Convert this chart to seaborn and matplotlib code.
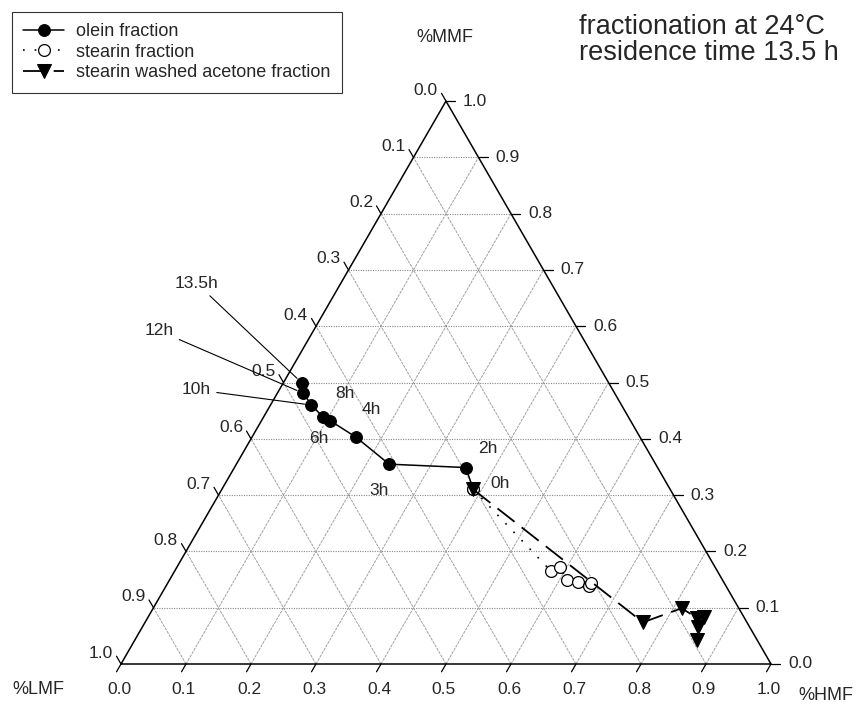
import numpy as np
import pandas as pd
import matplotlib
matplotlib.use('Agg')
import matplotlib.pyplot as plt
import seaborn as sns

sns.set_style('white')
plt.rcParams['font.family'] = ['Liberation Sans', 'DejaVu Sans']

# composition: HMF and MMF fractions, LMF = 1 - HMF - MMF
olein_time = ['0h', '2h', '3h', '4h', '6h', '8h', '10h', '12h', '13.5h']
olein_hmf = [0.387, 0.356, 0.235, 0.160, 0.106, 0.091, 0.063, 0.040, 0.029]
olein_mmf = [0.310, 0.349, 0.355, 0.403, 0.432, 0.439, 0.460, 0.481, 0.499]

stearin_hmf = [0.387, 0.579, 0.589, 0.612, 0.630, 0.651, 0.651]
stearin_mmf = [0.310, 0.165, 0.172, 0.149, 0.146, 0.139, 0.144]

washed_hmf = [0.387, 0.766, 0.813, 0.845, 0.855, 0.855, 0.865]
washed_mmf = [0.310, 0.074, 0.099, 0.082, 0.084, 0.066, 0.043]

tick_values = [0.0, 0.1, 0.2, 0.3, 0.4, 0.5, 0.6, 0.7, 0.8, 0.9, 1.0]
tick_labels = ['%.1f' % t for t in tick_values]

# label offsets (points) of the time labels from their olein point
label_offset = {'0h': (19, 4), '2h': (16, 14), '3h': (-7, -19), '4h': (11, 20),
                '6h': (-8, -13), '8h': (16, 17), '10h': (-83, 11),
                '12h': (-104, 45), '13.5h': (-76, 72)}
leader = ['10h', '12h', '13.5h']

S = np.sqrt(3) / 2
PX = 1 / 650.0  # one pixel in data units


def to_xy(hmf, mmf):
    hmf = np.asarray(hmf, float)
    mmf = np.asarray(mmf, float)
    return hmf + mmf / 2, mmf * S


fig = plt.figure(figsize=(8.62, 7.06), dpi=100)
ax = fig.add_axes([0, 0, 1, 1])
ax.set_xlim(-121 * PX, 741 * PX)
ax.set_ylim(-42 * PX, 664 * PX)
ax.axis('off')

# grid lines
for v in tick_values[1:-1]:
    x, y = to_xy([0, 1 - v], [v, v])
    ax.plot(x, y, color='#888888', lw=0.8, ls=(0, (1, 1.2)), zorder=1)
    x, y = to_xy([v, v], [0, 1 - v])
    ax.plot(x, y, color='#a0a0a0', lw=0.7, ls=(0, (3, 1)), zorder=1)
    x, y = to_xy([1 - v, 0], [0, 1 - v])
    ax.plot(x, y, color='#a0a0a0', lw=0.7, ls=(0, (3, 1)), zorder=1)

# triangle frame
ax.plot([0, 1, 0.5, 0], [0, 0, S, 0], color='black', lw=1.1, zorder=2)

# ticks and tick labels
L = 9 * PX
for v, lab in zip(tick_values, tick_labels):
    # bottom (HMF)
    x, y = v, 0
    ax.plot([x, x - 0.5 * L], [y, y - S * L], color='black', lw=0.9)
    ax.text(x - 2 * PX, y - 25 * PX, lab, ha='center', va='center', fontsize=12.5)
    # right (MMF)
    x, y = 1 - v / 2, v * S
    ax.plot([x, x + L], [y, y], color='black', lw=0.9)
    ax.text(x + 17 * PX, y, lab, ha='left', va='center', fontsize=12.5)
    # left (LMF)
    x, y = (1 - v) / 2, (1 - v) * S
    ax.plot([x, x - 0.5 * L], [y, y + S * L], color='black', lw=0.9)
    ax.text(x - 8 * PX, y + 11 * PX, lab, ha='right', va='center', fontsize=12.5)

ax.text(-83 * PX, -26 * PX, '%LMF', ha='center', va='center', fontsize=13)
ax.text(705 * PX, -31 * PX, '%HMF', ha='center', va='center', fontsize=13)
ax.text(324 * PX, 626 * PX, '%MMF', ha='center', va='center', fontsize=13)

ax.text(458 * PX, 637 * PX, 'fractionation at 24°C', ha='left', va='center', fontsize=19.5)
ax.text(458 * PX, 611 * PX, 'residence time 13.5 h', ha='left', va='center', fontsize=19.5)

# data series
ox, oy = to_xy(olein_hmf, olein_mmf)
sx, sy = to_xy(stearin_hmf, stearin_mmf)
wx, wy = to_xy(washed_hmf, washed_mmf)
olein = pd.DataFrame({'x': ox, 'y': oy, 'time': olein_time})
stearin = pd.DataFrame({'x': sx, 'y': sy})
washed = pd.DataFrame({'x': wx, 'y': wy})

sns.lineplot(data=olein, x='x', y='y', sort=False, estimator=None, ax=ax,
             color='black', lw=1.1, marker='o', markersize=8.5,
             markerfacecolor='black', markeredgecolor='black',
             label='olein fraction', zorder=4)
sns.lineplot(data=stearin, x='x', y='y', sort=False, estimator=None, ax=ax,
             color='black', lw=1.2, linestyle=(0, (1, 6)), marker='o', markersize=8.5,
             markerfacecolor='white', markeredgecolor='black', markeredgewidth=0.9,
             label='stearin fraction', zorder=5)
sns.lineplot(data=washed, x='x', y='y', sort=False, estimator=None, ax=ax,
             color='black', lw=1.3, linestyle=(0, (12, 5)), marker='v', markersize=9.5,
             markerfacecolor='black', markeredgecolor='black',
             label='stearin washed acetone fraction', zorder=6)

for _, r in olein.iterrows():
    dx, dy = label_offset[r['time']]
    if r['time'] in leader:
        ax.annotate(r['time'], xy=(r['x'], r['y']), xytext=(dx, dy),
                    textcoords='offset points', ha='center', va='center', fontsize=12.5,
                    arrowprops=dict(arrowstyle='-', lw=0.8, color='black',
                                    shrinkA=2, shrinkB=5))
    else:
        ax.annotate(r['time'], xy=(r['x'], r['y']), xytext=(dx, dy),
                    textcoords='offset points', ha='center', va='center', fontsize=12.5)

leg = ax.legend(loc='upper left', bbox_to_anchor=(12 / 862, 1 - 12 / 706),
                bbox_transform=fig.transFigure, frameon=True, fancybox=False,
                edgecolor='black', fontsize=13, borderaxespad=0, handlelength=2.27,
                labelspacing=0.2, borderpad=0.62, handletextpad=0.66)
leg.get_frame().set_linewidth(0.8)

fig.savefig('out.png', dpi=100)
